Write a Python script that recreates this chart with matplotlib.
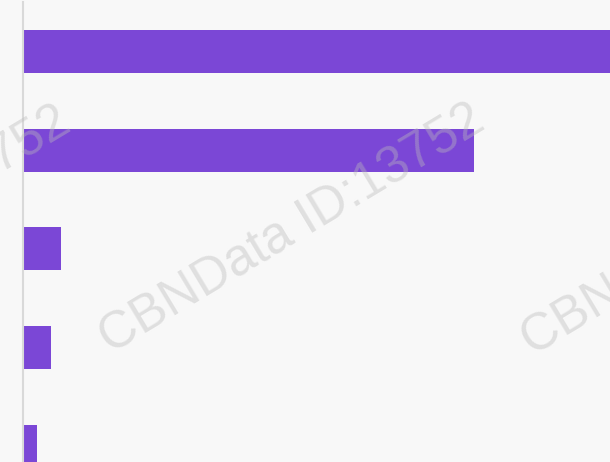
import matplotlib
matplotlib.use("Agg")
import matplotlib.pyplot as plt

# bar values (first bar runs past the right edge of the crop)
categories = ["A", "B", "C", "D", "E"]
values = [600, 451, 38, 28, 14]

bar_color = "#7b47d6"
bg_color = "#f8f8f8"
watermark = "CBNData ID:13752"

W, H = 610, 462
fig = plt.figure(figsize=(W / 100, H / 100), dpi=100, facecolor=bg_color)
ax = fig.add_axes([23 / W, 0, 1 - 23 / W, 460 / H], facecolor=bg_color)

pos = list(range(len(categories)))
ax.barh(pos, values, height=0.436, color=bar_color, zorder=2)

ax.set_xlim(0, 587)
ax.set_ylim(4.16, -0.5)
for s in ["top", "right", "bottom"]:
    ax.spines[s].set_visible(False)
ax.spines["left"].set_color("#d9d9d9")
ax.spines["left"].set_linewidth(1.5)
ax.set_xticks([])
ax.set_yticks([])

# repeated diagonal watermark
for cx, cy in [(-122, 232), (292, 230), (714, 232)]:
    fig.text(cx / W, 1 - cy / H, watermark, rotation=31, ha="center", va="center",
             rotation_mode="anchor", fontsize=37, family="Liberation Sans",
             color="#bbbbbb", alpha=0.4, zorder=5)

fig.savefig("out.png", dpi=100, facecolor=bg_color)
